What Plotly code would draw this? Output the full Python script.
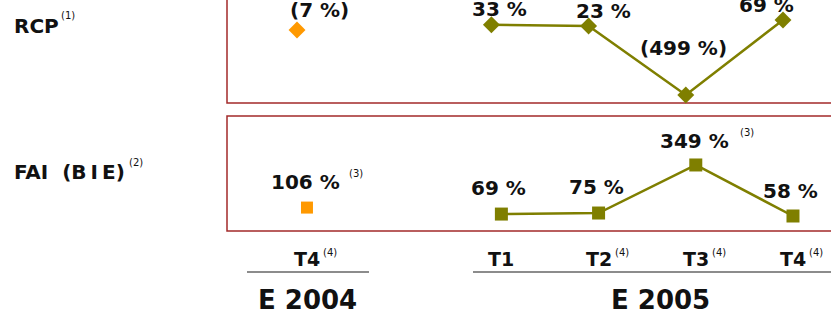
import plotly.graph_objects as go

# ---------------- data ----------------
periods = ["E2004-T4", "E2005-T1", "E2005-T2", "E2005-T3", "E2005-T4"]
period_index = [0, 2, 3, 4, 5]          # one-slot gap between the two years
quarter_labels = ["T4", "T1", "T2", "T3", "T4"]
quarter_notes = ["(4)", "", "(4)", "(4)", "(4)"]
year_labels = ["E 2004", "E 2005"]

rcp_values = [-7, 33, 23, -499, 69]
rcp_labels = ["(7 %)", "33 %", "23 %", "(499 %)", "69 %"]

fai_values = [106, 69, 75, 349, 58]
fai_labels = ["106 %", "69 %", "75 %", "349 %", "58 %"]
fai_notes = ["(3)", "", "", "(3)", ""]

row_labels = ["RCP", "FAI\u00a0\u00a0(B\u2009I\u2009E)"]
row_notes = ["(1)", "(2)"]

# ---------------- style ----------------
W, H = 831, 314
FONT = "DejaVu Sans"
OLIVE = "#7f7f00"
ORANGE = "#ff9900"
BORDER = "#a32a2a"
GREY = "#8c8c8c"
TXT = "#111111"
LBL = 20

def py(p):  # pixel row -> paper y
    return 1 - p / H

def px(p):
    return p / W

fig = go.Figure()

fig.add_trace(go.Scatter(x=period_index[:1], y=rcp_values[:1], mode="markers",
                         marker=dict(symbol="diamond", size=13, color=ORANGE),
                         xaxis="x", yaxis="y", showlegend=False, cliponaxis=False))
fig.add_trace(go.Scatter(x=period_index[1:], y=rcp_values[1:], mode="lines+markers",
                         line=dict(color=OLIVE, width=2.5),
                         marker=dict(symbol="diamond", size=13, color=OLIVE),
                         xaxis="x", yaxis="y", showlegend=False, cliponaxis=False))
fig.add_trace(go.Scatter(x=period_index[:1], y=fai_values[:1], mode="markers",
                         marker=dict(symbol="square", size=12, color=ORANGE),
                         xaxis="x2", yaxis="y2", showlegend=False, cliponaxis=False))
fig.add_trace(go.Scatter(x=period_index[1:], y=fai_values[1:], mode="lines+markers",
                         line=dict(color=OLIVE, width=2.5),
                         marker=dict(symbol="square", size=13, color=OLIVE),
                         xaxis="x2", yaxis="y2", showlegend=False, cliponaxis=False))

ann = []
rcp_off = [(22, 20), (8, 16), (15, 15), (-2, 47), (-16, 15)]
for i, (v, lab) in enumerate(zip(rcp_values, rcp_labels)):
    dx, dy = rcp_off[i]
    ann.append(dict(x=period_index[i], y=v, xref="x", yref="y", text=lab,
                    showarrow=False, xshift=dx, yshift=dy, xanchor="center", yanchor="middle",
                    font=dict(family=FONT, size=LBL, color=TXT, weight="bold")))
fai_off = [(-1, 26), (-3, 26), (-2, 26), (-1, 24), (-2, 25)]
note_dx = [41, 0, 0, 43, 0]
for i, (v, lab) in enumerate(zip(fai_values, fai_labels)):
    dx, dy = fai_off[i]
    ann.append(dict(x=period_index[i], y=v, xref="x2", yref="y2", text=lab,
                    showarrow=False, xshift=dx, yshift=dy, xanchor="center", yanchor="middle",
                    font=dict(family=FONT, size=LBL, color=TXT, weight="bold")))
    if fai_notes[i]:
        ann.append(dict(x=period_index[i], y=v, xref="x2", yref="y2", text=fai_notes[i],
                        showarrow=False, xshift=dx + note_dx[i], yshift=dy + 8,
                        xanchor="left", yanchor="middle",
                        font=dict(family=FONT, size=10, color=TXT)))

for i, q in enumerate(quarter_labels):
    ann.append(dict(x=period_index[i], y=py(259), xref="x2", yref="paper", text=q,
                    showarrow=False, xanchor="center", yanchor="middle",
                    font=dict(family=FONT, size=19, color=TXT, weight="bold")))
    if quarter_notes[i]:
        ann.append(dict(x=period_index[i], y=py(252), xref="x2", yref="paper",
                        text=quarter_notes[i], showarrow=False, xanchor="left", yanchor="middle",
                        xshift=14, font=dict(family=FONT, size=10, color=TXT)))

year_x = [307, 660]
for xx, lab in zip(year_x, year_labels):
    ann.append(dict(x=px(xx), y=py(300), xref="paper", yref="paper", text=lab,
                    showarrow=False, xanchor="center", yanchor="middle",
                    font=dict(family=FONT, size=26, color=TXT, weight="bold")))

row_y = [26, 172]
note_pos = [(59, 16), (127, 162)]
for yy, lab, note, (nx, ny) in zip(row_y, row_labels, row_notes, note_pos):
    ann.append(dict(x=px(12), y=py(yy), xref="paper", yref="paper", text=lab,
                    showarrow=False, xanchor="left", yanchor="middle",
                    font=dict(family=FONT, size=20, color=TXT, weight="bold")))
    ann.append(dict(x=px(nx), y=py(ny), xref="paper", yref="paper", text=note,
                    showarrow=False, xanchor="left", yanchor="middle",
                    font=dict(family=FONT, size=10, color=TXT)))

shapes = [
    dict(type="rect", xref="paper", yref="paper", x0=px(227), x1=px(845), y0=py(103), y1=py(-10),
         line=dict(color=BORDER, width=1.5), layer="below"),
    dict(type="rect", xref="paper", yref="paper", x0=px(227), x1=px(845), y0=py(231), y1=py(116),
         line=dict(color=BORDER, width=1.5), layer="below"),
    dict(type="line", xref="paper", yref="paper", x0=px(247), x1=px(369), y0=py(272), y1=py(272),
         line=dict(color=GREY, width=2)),
    dict(type="line", xref="paper", yref="paper", x0=px(473), x1=px(845), y0=py(272), y1=py(272),
         line=dict(color=GREY, width=2)),
]

hidden = dict(visible=False, showgrid=False, zeroline=False, fixedrange=True)
fig.update_layout(
    width=W, height=H, margin=dict(l=0, r=0, t=0, b=0),
    paper_bgcolor="white", plot_bgcolor="rgba(0,0,0,0)",
    xaxis=dict(domain=[0, 1], range=[-3.056, 5.494], anchor="y", **hidden),
    yaxis=dict(domain=[0, 1], range=[-2158, 220.5], anchor="x", **hidden),
    xaxis2=dict(domain=[0, 1], range=[-3.158, 5.391], anchor="y2", **hidden),
    yaxis2=dict(domain=[0, 1], range=[-501, 1290], anchor="x2", **hidden),
    annotations=ann, shapes=shapes, showlegend=False,
)

fig.write_html("out.html", config={"displayModeBar": False},
               post_script="document.body.style.margin='0';document.body.style.overflow='hidden';")
